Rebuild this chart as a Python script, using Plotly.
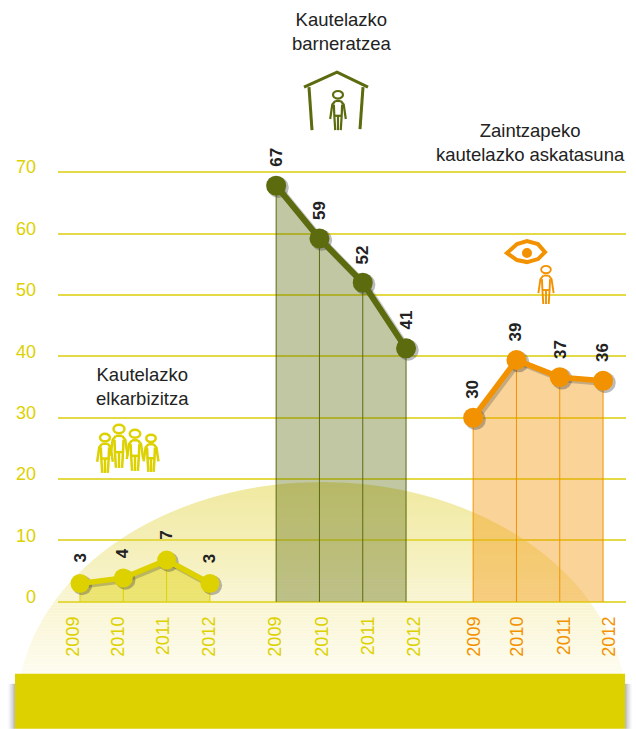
import plotly.graph_objects as go

years = ["2009", "2010", "2011", "2012"]
elkarbizitza = [3.0, 3.9, 6.8, 3.0]
elkarbizitza_labels = ["3", "4", "7", "3"]
barneratzea = [67.8, 59.2, 52.0, 41.3]
barneratzea_labels = ["67", "59", "52", "41"]
askatasuna = [30.0, 39.4, 36.6, 36.0]
askatasuna_labels = ["30", "39", "37", "36"]
y_ticks = [0, 10, 20, 30, 40, 50, 60, 70]

W, H = 636, 729
UNIT = 430 / 70
L, R = 58, 626
T, B = 172 - UNIT, 602 + UNIT
X0, STEP = 80.0, 43.3
YEL, OLV, ORG = "#DDD100", "#5B6B0E", "#F39200"
GRID = "#E3DA45"
FONT = "Liberation Sans"
TXT = "#222222"

def px2slot(px):
    return (px - X0) / STEP

def xp(px):
    return (px - L) / (R - L)

def yp(py):
    return (B - py) / (B - T)

def P(pts, close=False):
    s = "M" + " L".join(f"{xp(x):.5f},{yp(y):.5f}" for x, y in pts)
    return s + (" Z" if close else "")

shapes = []

def poly(pts, fill=None, line=None, lw=0, close=True, layer="below"):
    shapes.append(dict(type="path", xref="paper", yref="paper", path=P(pts, close),
                       fillcolor=fill if fill else "rgba(0,0,0,0)",
                       line=dict(color=line if line else "rgba(0,0,0,0)", width=lw), layer=layer))

def rect(x0, y0, x1, y1, fill, layer="below"):
    shapes.append(dict(type="rect", xref="paper", yref="paper", x0=xp(x0), x1=xp(x1), y0=yp(y1), y1=yp(y0),
                       fillcolor=fill, line=dict(width=0), layer=layer))

def ell(cx, cy, rx, ry, fill=None, line=None, lw=0):
    shapes.append(dict(type="circle", xref="paper", yref="paper", x0=xp(cx - rx), x1=xp(cx + rx),
                       y0=yp(cy + ry), y1=yp(cy - ry),
                       fillcolor=fill if fill else "rgba(0,0,0,0)",
                       line=dict(color=line if line else "rgba(0,0,0,0)", width=lw), layer="above"))

# glowing arc (drawn as thin horizontal slices to get its vertical fade)
cx_a, cy_a, a, b = 322.0, 712.0, 305.0, 230.0
top, bot = 482, 676
def half(y):
    return a * max(0.0, 1 - ((cy_a - y) / b) ** 2) ** 0.5
def lerp(c1, c2, t):
    return tuple(round(c1[i] + (c2[i] - c1[i]) * t) for i in range(3))
y = top
while y < bot:
    t = (y - top) / (bot - top)
    c = lerp((240, 233, 160), (254, 252, 240), t)
    ys = [y + k * 0.75 for k in range(5)]
    left = [(cx_a - half(v), v) for v in ys]
    right = [(cx_a + half(v), v) for v in reversed(ys)]
    poly(left + right, fill=f"rgb({c[0]},{c[1]},{c[2]})")
    y += 3

# bottom band and its soft shadow
for i in range(8):
    al = 0.012 * (i + 1)
    col = f"rgba(70,70,70,{al:.3f})"
    rect(7 + i, 684, 15, 729, col, layer="above")
    rect(625, 684, 633 - i, 729, col, layer="above")
rect(15, 674, 625, 729, YEL, layer="above")

def person(cx, top_y, h, col, lw):
    w = h * 0.46
    def q(u, v):
        return (cx + u * w / 2, top_y + v * h)
    ell(cx, top_y + 0.115 * h, 0.27 * w, 0.095 * h, line=col, lw=lw)
    poly([q(-.3, .27), q(-.62, .36), q(-.85, .72)], line=col, lw=lw, close=False, layer="above")
    poly([q(.3, .27), q(.62, .36), q(.85, .72)], line=col, lw=lw, close=False, layer="above")
    poly([q(-.3, .27), q(.3, .27)], line=col, lw=lw, close=False, layer="above")
    poly([q(-.45, .36), q(-.4, .64), q(-.3, 1.0)], line=col, lw=lw, close=False, layer="above")
    poly([q(.45, .36), q(.4, .64), q(.3, 1.0)], line=col, lw=lw, close=False, layer="above")
    poly([q(-.4, .64), q(.4, .64)], line=col, lw=lw, close=False, layer="above")
    poly([q(0, .64), q(0, 1.0)], line=col, lw=lw, close=False, layer="above")

# house icon
poly([(304, 87), (337, 72), (368, 87)], line=OLV, lw=3, close=False, layer="above")
poly([(309, 87), (312, 130)], line=OLV, lw=3, close=False, layer="above")
poly([(363, 87), (360, 129)], line=OLV, lw=3, close=False, layer="above")
person(338, 90, 40, OLV, 2.2)

# eye icon with person
poly([(507, 253), (517, 244), (527, 241), (538, 244), (545, 252), (538, 259), (527, 262), (517, 260)],
     line=ORG, lw=4, layer="above")
ell(527, 253, 5, 5, fill=ORG)
person(546, 265, 39, ORG, 1.9)

# family icon
person(105, 433, 40, YEL, 2.5)
person(119, 424, 44, YEL, 2.5)
person(135, 429, 42, YEL, 2.5)
person(151, 434, 38, YEL, 2.5)

fig = go.Figure()
groups = [
    (0.0, elkarbizitza, elkarbizitza_labels, YEL, "rgba(221,209,0,0.45)", 19, 5.5),
    (4.53, barneratzea, barneratzea_labels, OLV, "rgba(91,107,14,0.38)", 20, 6),
    (9.08, askatasuna, askatasuna_labels, ORG, "rgba(243,146,0,0.40)", 20, 5.5),
]
annotations = []
tickvals, ticktext = [], []
tick_shift = [[-7, -5, -3, -1], [-1, 3, 5, 8], [1, 1, 4, 6]]
tick_cols = [YEL, YEL, ORG]
for g, (start, vals, labs, col, fill, size, lw) in enumerate(groups):
    xs = [start + i for i in range(len(vals))]
    fig.add_trace(go.Scatter(x=xs, y=vals, mode="lines", fill="tozeroy", fillcolor=fill,
                             line=dict(width=0), hoverinfo="skip",
                             error_y=dict(type="data", symmetric=False, array=[0] * 4, arrayminus=vals,
                                          color=col, thickness=1, width=0)))
    fig.add_trace(go.Scatter(x=[v + 0.05 for v in xs], y=[v - 0.3 for v in vals], mode="lines+markers",
                             line=dict(color="rgba(60,60,60,0.28)", width=lw + 1),
                             marker=dict(size=size + 1, color="rgba(60,60,60,0.35)"),
                             hoverinfo="skip", cliponaxis=False))
    fig.add_trace(go.Scatter(x=xs, y=vals, mode="lines+markers", line=dict(color=col, width=lw),
                             marker=dict(size=size, color=col), cliponaxis=False))
    for i, (x, v, t) in enumerate(zip(xs, vals, labs)):
        annotations.append(dict(x=x, y=v, xref="x", yref="y", text=f"<b>{t}</b>", textangle=-90, showarrow=False,
                                yshift=25 if len(t) == 1 else 28, xanchor="center", yanchor="middle",
                                font=dict(family=FONT, size=17, color=TXT)))
        tickvals.append(x + tick_shift[g][i] / STEP)
        ticktext.append(f"<span style='color:{tick_cols[g]}'>{years[i]}</span>")

for cx, cy, t in [(142, 386, "Kautelazko<br>elkarbizitza"),
                  (341, 31, "Kautelazko<br>barneratzea"),
                  (530, 142, "Zaintzapeko<br>kautelazko askatasuna")]:
    annotations.append(dict(x=xp(cx), y=yp(cy), xref="paper", yref="paper", text=t, showarrow=False,
                            xanchor="center", yanchor="middle", align="center",
                            font=dict(family=FONT, size=18.5, color=TXT)))

fig.update_layout(
    width=W, height=H, showlegend=False, paper_bgcolor="white", plot_bgcolor="rgba(0,0,0,0)",
    margin=dict(l=L, r=W - R, t=T, b=H - B, pad=0),
    shapes=shapes, annotations=annotations,
    xaxis=dict(range=[px2slot(L), px2slot(R)], tickmode="array", tickvals=tickvals, ticktext=ticktext,
               tickangle=-90, showgrid=False, zeroline=False, showline=False, ticks="",
               ticklabelstandoff=4, tickfont=dict(family=FONT, size=18, color=YEL)),
    yaxis=dict(range=[-1, 71], tickmode="array", tickvals=y_ticks, showgrid=True, gridcolor=GRID, gridwidth=1.5,
               zeroline=False, showline=False, ticks="", ticklabelstandoff=21, ticklabelshift=-5,
               tickfont=dict(family=FONT, size=18, color=YEL)),
)
fig.write_html("out.html", config={"displayModeBar": False},
               post_script="document.body.style.margin='0';document.body.style.overflow='hidden';")
